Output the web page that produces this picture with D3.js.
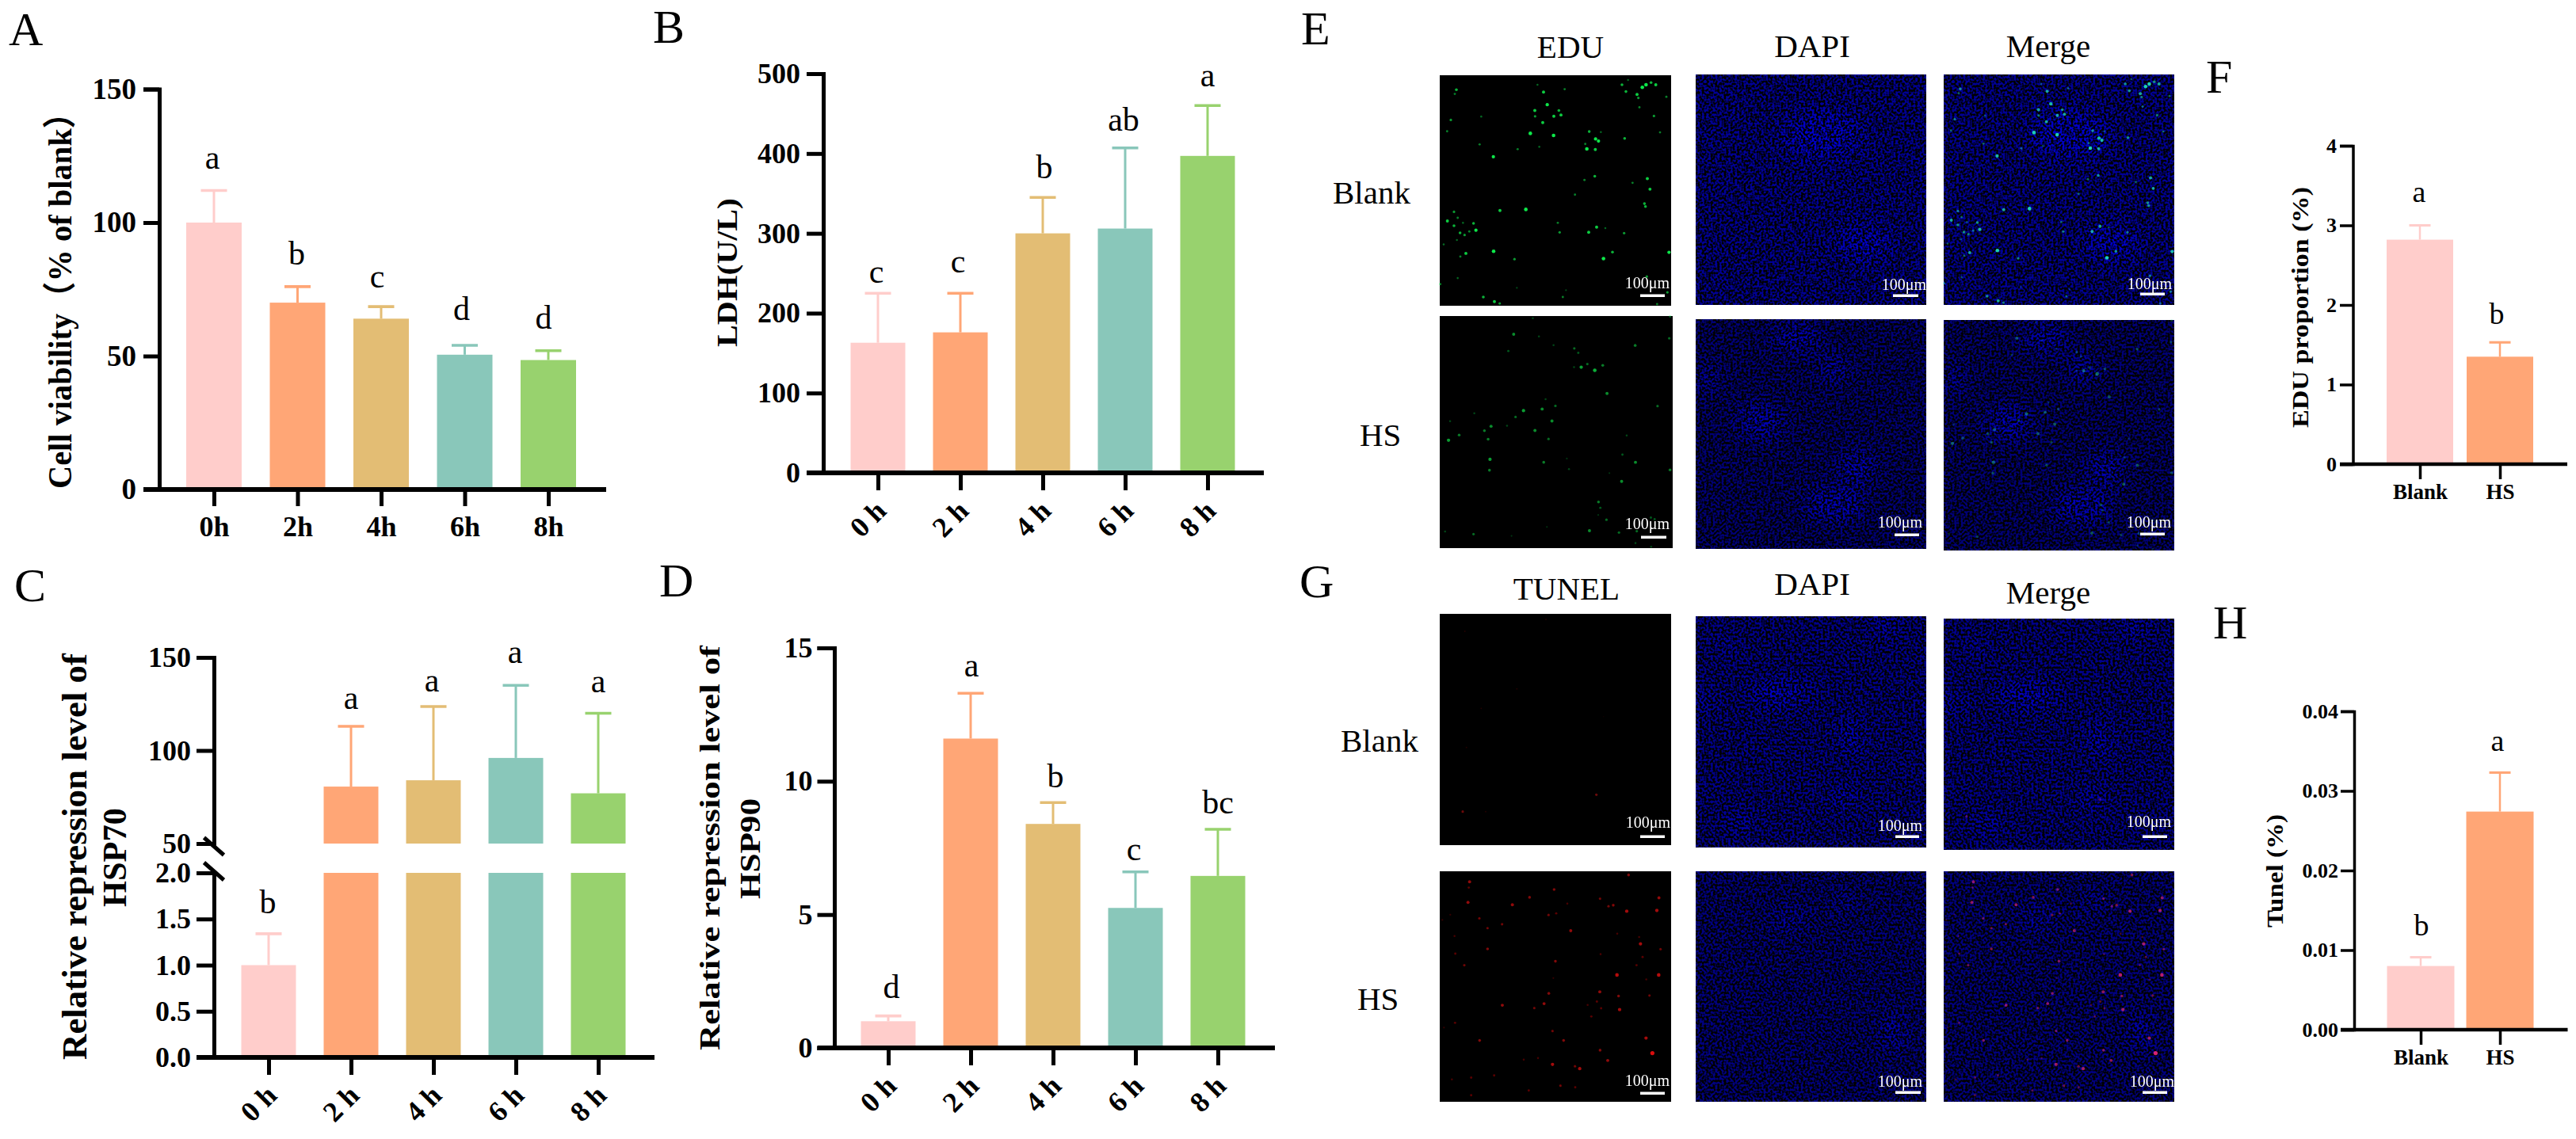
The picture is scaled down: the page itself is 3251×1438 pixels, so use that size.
<!DOCTYPE html>
<html><head><meta charset="utf-8">
<script src="https://cdn.jsdelivr.net/npm/d3@7/dist/d3.min.js"></script>
<style>
html,body{margin:0;padding:0;background:#fff;overflow:hidden}
svg{display:block}
text{font-family:"Liberation Serif","Noto Sans CJK SC",serif;fill:#000}
</style></head><body>
<svg id="fig" width="3251" height="1438" viewBox="0 0 3251 1438"></svg>
<script>
// ---------- data ----------
const barColors = ["#FFCDCB","#FFA676","#E3BD74","#89C7BA","#98D26E"];
const hoursA = ["0h","2h","4h","6h","8h"];
const hours = ["0 h","2 h","4 h","6 h","8 h"];
const groups = ["Blank","HS"];

const viability = [100,70,64,50.5,48.5];
const viabilityTop = [112,76,68.5,54,52];
const viabilityLetters = ["a","b","c","d","d"];

const ldh = [163,176,300,306,397];
const ldhTop = [225,225,345,407,460];
const ldhLetters = ["c","c","b","ab","a"];

const hsp70 = [1,80.6,84,96,77];
const hsp70Top = [1.34,113,123.6,135,120];
const hsp70Letters = ["b","a","a","a","a"];

const hsp90 = [1,11.6,8.4,5.25,6.45];
const hsp90Top = [1.2,13.3,9.2,6.6,8.2];
const hsp90Letters = ["d","a","b","c","bc"];

const edu = [2.82,1.35];
const eduTop = [3.0,1.53];
const eduLetters = ["a","b"];

const tunel = [0.008,0.0274];
const tunelTop = [0.0091,0.0323];
const tunelLetters = ["b","a"];

// fluorescent spots: [x, y, brightness] in a 0-876 photo frame
const eduBlankSpots = [[393,64,.8],[407,112,.9],[360,134,.8],[361,156,.6],[432,156,.8],[459,151,.8],[451,134,.7],[390,180,.8],[343,221,1],[431,229,1],[370,36,.4],[473,53,.5],[63,55,.7],[57,71,.5],[42,170,.6],[28,213,.5],[157,157,.4],[151,263,.5],[203,310,.9],[295,281,.5],[377,272,.4],[690,36,.7],[713,18,.4],[705,62,.7],[747,73,.8],[752,86,.6],[767,46,1],[781,36,1],[800,28,.7],[818,36,.8],[858,82,.5],[756,122,.5],[811,155,.6],[834,217,.5],[700,240,.7],[566,214,.7],[610,216,.4],[590,242,.9],[601,250,.9],[551,261,.5],[557,280,1],[589,282,.8],[587,384,.7],[548,398,.5],[786,393,.8],[796,433,.8],[730,409,.5],[512,454,.5],[775,488,.7],[779,499,.7],[326,510,1],[228,514,.8],[54,519,.6],[68,542,.5],[29,554,.8],[54,572,.7],[88,561,.4],[128,563,.7],[137,589,.9],[112,594,.5],[77,599,.7],[94,607,.6],[65,626,.4],[15,643,.4],[204,669,1],[99,677,.8],[78,689,.5],[283,699,.6],[447,561,.5],[454,597,.6],[564,597,.8],[594,577,.8],[627,581,.4],[698,600,.6],[654,672,.7],[620,697,1],[868,673,.9],[784,765,.6],[68,771,.4],[165,843,.7],[207,860,.8],[227,867,.6],[466,843,.5],[478,817,.3],[862,825,.6],[2,794,.5],[823,870,.5],[292,808,.3]];
const eduHsSpots = [[278,69,.8],[350,8,.4],[373,77,.4],[258,132,.5],[428,110,.4],[506,122,.6],[521,139,.5],[735,111,.7],[863,84,.6],[866,2,.5],[505,193,.4],[532,193,.9],[555,181,.6],[583,205,1],[613,186,.7],[629,292,.8],[398,314,.4],[435,339,.6],[385,351,.8],[315,357,.9],[285,381,.6],[130,367,.4],[39,397,.4],[193,416,.8],[253,414,.4],[422,396,.8],[358,432,.8],[168,433,.7],[182,465,.7],[73,449,.7],[33,469,.9],[409,464,.6],[819,340,.6],[703,451,.4],[687,523,.5],[736,552,.8],[866,581,.7],[189,541,.9],[187,582,.7],[391,552,.7],[478,538,.3],[486,578,.4],[684,624,.8],[638,593,.3],[597,702,.7],[604,724,.5],[596,751,.3],[627,769,.6],[563,810,.8],[674,817,.6],[741,812,.6],[794,761,.5],[808,767,.5],[736,857,.4],[795,871,.4],[127,823,.6],[20,813,.4],[270,830,.3],[403,796,.3]];
const tunelBlankSpots = [[87,749,.6],[593,685,.6],[95,66,.2],[292,284,.2],[157,358,.2],[101,506,.2],[174,749,.2],[620,389,.1],[402,21,.2]];
const tunelHsSpots = [[113,40,.8],[110,62,.5],[107,118,.8],[150,179,.6],[181,216,.6],[236,201,.6],[275,127,.8],[340,99,.7],[433,69,.7],[412,166,.6],[441,160,.5],[496,226,.8],[483,123,.4],[607,104,.6],[639,133,.6],[657,129,.7],[708,152,.9],[715,14,.7],[830,101,.8],[822,149,.9],[56,246,.4],[181,295,.7],[59,313,.5],[93,357,.6],[438,342,.7],[760,276,.9],[755,250,.4],[836,296,.6],[768,326,.5],[745,357,.5],[671,394,1],[829,394,1],[782,411,.4],[606,458,.8],[413,464,.7],[395,503,.8],[237,509,.8],[358,520,.6],[595,495,.5],[677,474,.7],[794,472,.6],[611,521,.5],[681,526,.9],[574,552,.5],[58,576,.5],[16,594,.3],[427,607,.6],[469,643,.7],[151,643,.7],[781,634,.9],[607,680,.7],[805,691,1.2],[636,719,.8],[427,734,.9],[530,750,.9],[512,741,.6],[372,710,.4],[318,716,.4],[206,776,.5],[119,784,.5],[46,791,.4],[457,815,.6],[513,821,.5],[337,833,.5],[119,851,.5],[10,185,.3],[40,165,.3],[430,406,.3],[560,508,.4],[672,237,.4],[609,315,.4]];

// brighter nuclei patches in the DAPI photos: [x, y, rx, ry] in the same frame
const dapiE1Patches = [[480,230,150,90],[640,640,110,60]];
const dapiE2Patches = [[385,72,90,50],[243,391,90,60],[611,565,70,60],[526,707,120,60],[45,225,35,50],[525,183,50,50]];
const dapiG1Patches = [[320,290,120,45],[590,460,40,65],[120,110,35,22],[170,780,50,30],[560,690,60,30],[720,40,50,30],[30,320,35,30]];
const dapiG2Patches = [[356,180,55,35],[752,607,35,70],[560,120,40,25]];

// ---------- layout ----------
const svg = d3.select("#fig");
const defs = svg.append("defs");
const serif = '"Liberation Serif","Noto Sans CJK SC",serif';

function speckle(id, seed){
  const f = defs.append("filter").attr("id",id).attr("x",0).attr("y",0).attr("width",1).attr("height",1)
    .attr("color-interpolation-filters","sRGB");
  f.append("feTurbulence").attr("type","fractalNoise").attr("baseFrequency",.36).attr("numOctaves",1).attr("seed",seed).attr("result","n");
  f.append("feColorMatrix").attr("in","n").attr("type","matrix")
    .attr("values","0 0 0 0 0  0 0 0 0 0  5 0 0 0 -2  0 0 0 0 1").attr("result","m");
  f.append("feComposite").attr("in","SourceGraphic").attr("in2","m").attr("operator","arithmetic")
    .attr("k1",1.1).attr("k2",0).attr("k3",0).attr("k4",0);
}
["s1","s2","s3","s4"].forEach((id,i)=>speckle(id,[4,11,23,37][i]));
const soft = defs.append("filter").attr("id","soft").attr("x","-30%").attr("y","-30%").attr("width","160%").attr("height","160%");
soft.append("feGaussianBlur").attr("stdDeviation",12);
const glow = defs.append("filter").attr("id","glow").attr("x","-100%").attr("y","-100%").attr("width","300%").attr("height","300%");
glow.append("feGaussianBlur").attr("stdDeviation",.7);

function label(x,y,t,size,opts={}){
  return svg.append("text").attr("x",x).attr("y",y).attr("font-size",size)
    .attr("font-weight",opts.bold?"bold":"normal").attr("text-anchor",opts.anchor||"start").text(t);
}
function yTitle(cx,y0,y1,t,size){
  svg.append("g").attr("transform",`translate(${cx},${(y0+y1)/2}) rotate(-90)`)
    .append("text").attr("text-anchor","middle").attr("dy",".33em").attr("font-size",size).attr("font-weight","bold")
    .attr("textLength",y1-y0).attr("lengthAdjust","spacingAndGlyphs").text(t);
}
function styleAxis(g,w,size){
  g.selectAll("line,path").attr("stroke","#000").attr("stroke-width",w);
  g.selectAll("text").attr("font-family",serif).attr("font-weight","bold").attr("font-size",size).attr("fill","#000");
}
function drawBottom(p,x){
  const g = svg.append("g").attr("transform",`translate(0,${p.base})`)
    .call(d3.axisBottom(x).tickSizeOuter(0).tickSize(p.tick).tickPadding(p.xPad));
  g.select(".domain").remove();
  styleAxis(g,p.w,p.xFont);
  if(p.rotate){
    g.selectAll("text").attr("text-anchor","end").attr("dy",0).attr("y",0)
      .attr("transform",`translate(${p.rotDx},${p.rotDy}) rotate(-45)`);
  }
  svg.append("line").attr("x1",p.tickLeft).attr("x2",p.right).attr("y1",p.base).attr("y2",p.base)
    .attr("stroke","#000").attr("stroke-width",p.w+1);
}
function errBars(p,x,y,values,tops,colors){
  const g = svg.append("g");
  values.forEach((v,i)=>{
    const cx = x(p.labels[i]), c = colors[i];
    g.append("line").attr("x1",cx).attr("x2",cx).attr("y1",y(v,i)).attr("y2",y(tops[i],i)).attr("stroke",c).attr("stroke-width",p.stem);
    g.append("line").attr("x1",cx-p.cap/2).attr("x2",cx+p.cap/2).attr("y1",y(tops[i],i)).attr("y2",y(tops[i],i)).attr("stroke",c).attr("stroke-width",p.stem+.6);
  });
}
function letters(p,x,y,tops,lets){
  lets.forEach((t,i)=>{
    label(x(p.labels[i])+p.nudge[i],y(tops[i],i)-p.lift[i],t,p.letterFont,{anchor:"middle"});
  });
}
function simplePanel(p,values,tops,lets){
  const x = d3.scalePoint().domain(p.labels).range([p.first,p.last]);
  const yS = d3.scaleLinear().domain(p.domain).range([p.base,p.top]);
  const y = v=>yS(v);
  svg.append("g").selectAll("rect").data(values).join("rect")
    .attr("x",(d,i)=>x(p.labels[i])-p.barW/2).attr("width",p.barW)
    .attr("y",d=>yS(d)).attr("height",d=>p.base-yS(d)).attr("fill",(d,i)=>barColors[i]);
  errBars(p,x,y,values,tops,barColors);
  const gy = svg.append("g").attr("transform",`translate(${p.axisX},0)`)
    .call(d3.axisLeft(yS).tickValues(p.ticks).tickFormat(p.fmt||(d=>d)).tickSizeOuter(0).tickSize(p.axisX-p.tickLeft).tickPadding(p.yPad));
  styleAxis(gy,p.w,p.yFont);
  drawBottom(p,x);
  letters(p,x,y,tops,lets);
}

// panel A
simplePanel({labels:hoursA,first:270,last:692,barW:70,top:112.5,base:618,domain:[0,150],ticks:[0,50,100,150],
  axisX:201,tickLeft:181,right:765,w:5,tick:21,xPad:12,xFont:36,yFont:37,yPad:9,stem:3,cap:33,letterFont:42,
  nudge:[-2,-1,-5,-4,-6],lift:[28,28,24,32,28]},viability,viabilityTop,viabilityLetters);
yTitle(76,122,617,"Cell viability（% of blank）",42);

// panel B
simplePanel({labels:hours,first:1108,last:1524,barW:69,top:93,base:597,domain:[0,500],ticks:[0,100,200,300,400,500],
  axisX:1039,tickLeft:1018,right:1595,w:5,tick:22,xPad:10,xFont:36,yFont:36,yPad:8,stem:3,cap:33,letterFont:42,rotate:true,rotDx:12,rotDy:50,
  nudge:[-2,-3,2,-2,0],lift:[13,26,24,22,24]},ldh,ldhTop,ldhLetters);
yTitle(918,250,438,"LDH(U/L)",36);

// panel C with a broken axis
(function(){
  const p = {labels:hours,first:339,last:755,barW:69,base:1335,tickLeft:248,right:826,w:5,tick:22,xPad:10,xFont:36,rotate:true,rotDx:12,rotDy:50,
    stem:3,cap:33,letterFont:42,nudge:[-1,0,-2,-1,0],lift:[26,22,19,28,27]};
  const axisX = 270;
  const x = d3.scalePoint().domain(p.labels).range([p.first,p.last]);
  const lower = d3.scaleLinear().domain([0,2]).range([p.base,1102]).clamp(true);
  const upper = d3.scaleLinear().domain([50,150]).range([1065,830]);
  const y = (v,i)=> i===0 ? lower(v) : upper(v);
  svg.append("g").selectAll("rect").data(hsp70).join("rect")
    .attr("x",(d,i)=>x(p.labels[i])-p.barW/2).attr("width",p.barW)
    .attr("y",d=>lower(d)).attr("height",d=>p.base-lower(d)).attr("fill",(d,i)=>barColors[i]);
  svg.append("g").selectAll("rect").data(hsp70.filter(d=>d>=50)).join("rect")
    .attr("x",(d,i)=>x(p.labels[i+1])-p.barW/2).attr("width",p.barW)
    .attr("y",d=>upper(d)).attr("height",d=>upper(50)-upper(d)).attr("fill",(d,i)=>barColors[i+1]);
  errBars(p,x,y,hsp70,hsp70Top,barColors);
  const ga = svg.append("g").attr("transform",`translate(${axisX},0)`)
    .call(d3.axisLeft(upper).tickValues([50,100,150]).tickSizeOuter(0).tickSize(axisX-p.tickLeft).tickPadding(7));
  styleAxis(ga,5,36);
  ga.selectAll(".tick").filter(d=>d===50).select("line").remove();
  const gb = svg.append("g").attr("transform",`translate(${axisX},0)`)
    .call(d3.axisLeft(lower).tickValues([0,.5,1,1.5,2]).tickFormat(d3.format(".1f")).tickSizeOuter(0).tickSize(axisX-p.tickLeft).tickPadding(7));
  styleAxis(gb,5,36);
  gb.selectAll(".tick").filter(d=>d===2).select("line").remove();
  [[upper(50)+3.5],[lower(2)-2]].forEach(([cy])=>{
    svg.append("line").attr("x1",axisX-12.5).attr("x2",axisX+12.5).attr("y1",cy-11).attr("y2",cy+11)
      .attr("stroke","#000").attr("stroke-width",5);
  });
  drawBottom(p,x);
  letters(p,x,y,hsp70Top,hsp70Letters);
})();
yTitle(94,825,1338,"Relative repression level of",44);
yTitle(145,1020,1145,"HSP70",42);

// panel D
simplePanel({labels:hours,first:1121,last:1537,barW:69,top:818,base:1323,domain:[0,15],ticks:[0,5,10,15],
  axisX:1053,tickLeft:1031.5,right:1609,w:5,tick:22,xPad:10,xFont:36,yFont:36,yPad:6,stem:3,cap:33,letterFont:42,rotate:true,rotDx:12,rotDy:50,
  nudge:[4,1,3,-2,0],lift:[23,21,19,15,20]},hsp90,hsp90Top,hsp90Letters);
yTitle(896,815,1326,"Relative repression level of",36);
yTitle(947,1008,1135,"HSP90",36);

// panel F
simplePanel({labels:groups,first:3054,last:3155,barW:84,top:184,base:586,domain:[0,4],ticks:[0,1,2,3,4],
  axisX:2969.5,tickLeft:2953,right:3240,w:3.5,tick:19,xPad:6,xFont:27,yFont:26,yPad:4,stem:2.5,cap:27,letterFont:38,
  nudge:[-1,-4],lift:[30,23]},edu,eduTop,eduLetters);
yTitle(2903,236,540,"EDU proportion (%)",30);

// panel H
simplePanel({labels:groups,first:3055,last:3155,barW:85,top:898,base:1300,domain:[0,.04],ticks:[0,.01,.02,.03,.04],fmt:d3.format(".2f"),
  axisX:2971,tickLeft:2954,right:3240.5,w:3.5,tick:19,xPad:6,xFont:27,yFont:26,yPad:3,stem:2.5,cap:27,letterFont:38,
  nudge:[1,-3],lift:[28,27]},tunel,tunelTop,tunelLetters);
yTitle(2871,1028,1171,"Tunel (%)",30);

// panel letters
[["A",11,57],["B",824,54],["E",1642,56],["C",18,759],["D",832,753],["G",1640,754],["F",2784,117],["H",2793,806]]
  .forEach(([t,x,y])=>label(x,y,t,60));

// row and column captions
[["Blank",1682,257],["HS",1716,563],["Blank",1692,949],["HS",1713,1275]].forEach(([t,x,y])=>label(x,y,t,41));
[["EDU",1982,73],["DAPI",2287,72],["Merge",2585,72],["TUNEL",1977,757],["DAPI",2287,751],["Merge",2585,762]]
  .forEach(([t,x,y])=>label(x,y,t,41,{anchor:"middle"}));

// ---------- micrographs ----------
const frame = s=>d3.scaleLinear().domain([0,876]).range([0,s]);
function photoFrame(px,py){
  return svg.append("g").attr("transform",`translate(${px},${py})`);
}
function spots(g,sx,sy,list,color,gain){
  g.append("g").attr("filter","url(#glow)").selectAll("circle").data(list).join("circle")
    .attr("cx",d=>sx(d[0])).attr("cy",d=>sy(d[1])).attr("r",d=>.6+d[2]*1.7)
    .attr("fill",color).attr("opacity",d=>Math.min(1,d[2]*gain));
}
function scaleMark(tx,ty,bx0,bx1,by){
  svg.append("text").attr("x",tx).attr("y",ty).attr("text-anchor","middle").attr("font-size",20).style("fill","#fff").text("100μm");
  svg.append("rect").attr("x",bx0).attr("width",bx1-bx0).attr("y",by-1.5).attr("height",3.5).attr("fill","#fff");
}
function spotPhoto(px,py,w,h,list,color,gain){
  const g = photoFrame(px,py);
  g.append("rect").attr("width",w).attr("height",h).attr("fill","#000");
  spots(g,frame(w),frame(h),list,color,gain);
}
function dapiPhoto(px,py,w,h,patches,filterId,base,list,color,gain){
  const g = photoFrame(px,py);
  const inner = g.append("g").attr("filter",`url(#${filterId})`);
  inner.append("rect").attr("width",w).attr("height",h).attr("fill",base);
  const sx = frame(w), sy = frame(h);
  const cid = "c"+filterId+Math.round(px);
  defs.append("clipPath").attr("id",cid).append("rect").attr("width",w).attr("height",h);
  inner.append("g").attr("clip-path",`url(#${cid})`).append("g").attr("filter","url(#soft)")
    .selectAll("ellipse").data(patches).join("ellipse")
    .attr("cx",d=>sx(d[0])).attr("cy",d=>sy(d[1])).attr("rx",d=>sx(d[2])).attr("ry",d=>sy(d[3])).attr("fill","#0000e0").attr("opacity",.6);
  if(list) spots(g,sx,sy,list,color,gain);
}
const W=291,H=291;
spotPhoto(1817,95,292,291,eduBlankSpots,"#0fe84a",1.1);
dapiPhoto(2140,94,W,H,dapiE1Patches,"s1","#000088");
dapiPhoto(2453,94,W,H,dapiE1Patches,"s1","#000088",eduBlankSpots,"#20e6c0",.9);

spotPhoto(1817,399,294,293,eduHsSpots,"#0fe84a",.75);
dapiPhoto(2140,403,W,290,dapiE2Patches,"s2","#00006c");
dapiPhoto(2453,404,W,291,dapiE2Patches,"s2","#00006c",eduHsSpots,"#20d8b0",.5);

spotPhoto(1817,775,292,292,tunelBlankSpots,"#ff1a1a",.7);
dapiPhoto(2140,778,W,292,dapiG1Patches,"s3","#000080");
dapiPhoto(2453,781,W,292,dapiG1Patches,"s3","#000080",tunelBlankSpots,"#ff2a80",.5);

spotPhoto(1817,1100,292,291,tunelHsSpots,"#f01010",.75);
dapiPhoto(2140,1100,W,291,dapiG2Patches,"s4","#000074");
dapiPhoto(2453,1100,W,291,dapiG2Patches,"s4","#000074",tunelHsSpots,"#ff2a80",.7);

// scale bars
[[2079,364,2070,2101,373],[2403,366,2389,2421,373],[2713,365,2701,2732,371],
 [2079,668,2071,2103,678],[2398,666,2391,2422,675],[2712,666,2701,2732,674],
 [2080,1045,2070,2101,1056],[2398,1049,2392,2422,1056],[2712,1044,2704,2735,1056],
 [2079,1371,2070,2101,1380],[2398,1372,2392,2424,1379],[2716,1372,2704,2735,1379]]
 .forEach(([tx,ty,a,b,by])=>scaleMark(tx,ty,a,b,by));
</script>
</body></html>
